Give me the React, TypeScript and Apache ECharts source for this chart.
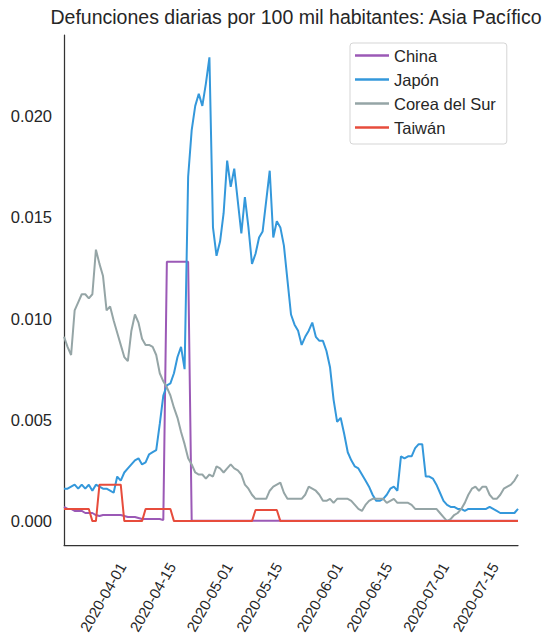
import React, { useEffect, useRef } from 'react';
import * as echarts from 'echarts';

const START_UTC = Date.UTC(2020, 2, 21);
const N_DAYS = 129;
function buildDates(): string[] {
  const out: string[] = [];
  for (let i = 0; i < N_DAYS; i++) {
    out.push(new Date(START_UTC + i * 86400000).toISOString().slice(0, 10));
  }
  return out;
}
const dates = buildDates();

const tickLabels = ['2020-04-01', '2020-04-15', '2020-05-01', '2020-05-15', '2020-06-01', '2020-06-15', '2020-07-01', '2020-07-15'];
const yTicks = [0, 0.005, 0.01, 0.015, 0.02];

const seriesNames = ['China', 'Japón', 'Corea del Sur', 'Taiwán'];
const seriesColors = ['#9b59b6', '#3498db', '#95a5a6', '#e74c3c'];

const china = [
  0.0007, 0.0006, 0.0006, 0.0005, 0.0005, 0.0005, 0.0004, 0.0004, 0.0004, 0.0003,
  0.00025, 0.0003, 0.0003, 0.0003, 0.0003, 0.0003, 0.0003, 0.00025, 0.0002, 0.0002,
  0.0002, 0.00015, 0.0001, 0.0001, 0.0001, 0.0001, 0.0001, 0.0001, 0.00005, 0.0128,
  0.0128, 0.0128, 0.0128, 0.0128, 0.0128, 0.0128, 0.00002, 0.00002, 0.00002, 0.00002,
  0.00002, 0.00002, 0.00002, 0.00002, 0.00002, 0.00002, 0.00002, 0.00002, 0.00002, 0.00002,
  0.00002, 0.00002, 0.00002, 0.00002, 0.00002, 0.00002, 0.00002, 0.00002, 0.00002, 0.00002,
  0.00002, 0.00002, 0.00002, 0.00002, 0.00002, 0.00002, 0.00002, 0.00002, 0.00002, 0.00002,
  0.00002, 0.00002, 0.00002, 0.00002, 0.00002, 0.00002, 0.00002, 0.00002, 0.00002, 0.00002,
  0.00002, 0.00002, 0.00002, 0.00002, 0.00002, 0.00002, 0.00002, 0.00002, 0.00002, 0.00002,
  0.00002, 0.00002, 0.00002, 0.00002, 0.00002, 0.00002, 0.00002, 0.00002, 0.00002, 0.00002,
  0.00002, 0.00002, 0.00002, 0.00002, 0.00002, 0.00002, 0.00002, 0.00002, 0.00002, 0.00002,
  0.00002, 0.00002, 0.00002, 0.00002, 0.00002, 0.00002, 0.00002, 0.00002, 0.00002, 0.00002,
  0.00002, 0.00002, 0.00002, 0.00002, 0.00002, 0.00002, 0.00002, 0.00002, 0.00002,
];

const japan = [
  0.0016, 0.0016, 0.0017, 0.0018, 0.0016, 0.0018, 0.0016, 0.0018, 0.0015, 0.0018,
  0.0017, 0.0016, 0.0016, 0.0015, 0.0014, 0.0022, 0.0020, 0.0024, 0.0026, 0.0028,
  0.0030, 0.0031, 0.0028, 0.0029, 0.0033, 0.0034, 0.0035, 0.0048, 0.0062, 0.0067,
  0.0068, 0.0073, 0.0081, 0.0086, 0.0075, 0.0170, 0.0193, 0.0205, 0.0211, 0.0205,
  0.0216, 0.0229, 0.0145, 0.0131, 0.0138, 0.0152, 0.0178, 0.0165, 0.0174, 0.0158,
  0.0142, 0.0160, 0.0145, 0.0127, 0.0132, 0.0140, 0.0143, 0.0158, 0.0173, 0.0140,
  0.0148, 0.0145, 0.0136, 0.0119, 0.0102, 0.0097, 0.0094, 0.0087, 0.0091, 0.0094,
  0.0098, 0.0091, 0.0089, 0.0089, 0.0084, 0.0076, 0.0060, 0.0049, 0.0051, 0.0043,
  0.0034, 0.0030, 0.0027, 0.0026, 0.0023, 0.0020, 0.0017, 0.0013, 0.0010, 0.0010,
  0.0011, 0.0013, 0.0016, 0.0017, 0.0015, 0.0032, 0.0031, 0.0032, 0.0032, 0.0036,
  0.0038, 0.0038, 0.0022, 0.0022, 0.0021, 0.0018, 0.0014, 0.0010, 0.0008, 0.0007,
  0.0007, 0.0006, 0.0006, 0.0005, 0.0006, 0.0006, 0.0006, 0.0006, 0.0006, 0.0006,
  0.0007, 0.0006, 0.0005, 0.0004, 0.0004, 0.0004, 0.0004, 0.0004, 0.0006,
];

const korea = [
  0.0091, 0.0086, 0.0082, 0.0104, 0.0108, 0.0112, 0.0112, 0.0110, 0.0112, 0.0134,
  0.0127, 0.0121, 0.0104, 0.0106, 0.0099, 0.0093, 0.0087, 0.0081, 0.0079, 0.0094,
  0.0102, 0.0098, 0.0090, 0.0087, 0.0087, 0.0086, 0.0082, 0.0073, 0.0069, 0.0066,
  0.0062, 0.0056, 0.0051, 0.0044, 0.0038, 0.0031, 0.0028, 0.0024, 0.0023, 0.0023,
  0.0021, 0.0023, 0.0022, 0.0027, 0.0026, 0.0024, 0.0026, 0.0028, 0.0026, 0.0025,
  0.0023, 0.0018, 0.0016, 0.0013, 0.0011, 0.0011, 0.0011, 0.0011, 0.0015, 0.0017,
  0.0018, 0.0019, 0.0014, 0.0011, 0.0011, 0.0011, 0.0011, 0.0011, 0.0013, 0.0017,
  0.0016, 0.0015, 0.0013, 0.0010, 0.0010, 0.0011, 0.0009, 0.0011, 0.0011, 0.0011,
  0.0011, 0.0010, 0.0008, 0.0006, 0.0005, 0.0008, 0.0010, 0.0011, 0.0011, 0.0011,
  0.0011, 0.0009, 0.0010, 0.0011, 0.0009, 0.0009, 0.0009, 0.0009, 0.0008, 0.0006,
  0.0006, 0.0006, 0.0006, 0.0006, 0.0006, 0.0006, 0.0004, 0.0002, 0.0000, 0.0001,
  0.0003, 0.0004, 0.0006, 0.0009, 0.0013, 0.0016, 0.0017, 0.0015, 0.0017, 0.0017,
  0.0013, 0.0011, 0.0011, 0.0013, 0.0016, 0.0017, 0.0018, 0.0020, 0.0023,
];

const taiwan = [
  0.0006, 0.0006, 0.0006, 0.0006, 0.0006, 0.0006, 0.0006, 0.0006, 0, 0,
  0.0018, 0.0018, 0.0018, 0.0018, 0.0018, 0.0018, 0.0018, 0, 0, 0,
  0, 0, 0, 0.0006, 0.0006, 0.0006, 0.0006, 0.0006, 0.0006, 0.0006,
  0.0006, 0, 0, 0, 0, 0, 0, 0, 0, 0,
  0, 0, 0, 0, 0, 0, 0, 0, 0, 0,
  0, 0, 0, 0, 0.00055, 0.00055, 0.00055, 0.00055, 0.00055, 0.00055,
  0.00055, 0, 0, 0, 0, 0, 0, 0, 0, 0,
  0, 0, 0, 0, 0, 0, 0, 0, 0, 0,
  0, 0, 0, 0, 0, 0, 0, 0, 0, 0,
  0, 0, 0, 0, 0, 0, 0, 0, 0, 0,
  0, 0, 0, 0, 0, 0, 0, 0, 0, 0,
  0, 0, 0, 0, 0, 0, 0, 0, 0, 0,
  0, 0, 0, 0, 0, 0, 0, 0, 0,
];

const seriesData = [china, japan, korea, taiwan];

const FONT = "'Liberation Sans', Arial, sans-serif";
const TEXT = '#262626';

export default function App() {
  const ref = useRef<HTMLDivElement>(null);
  useEffect(() => {
    if (!ref.current) return;
    const chart = echarts.init(ref.current, null, { renderer: 'svg' });
    chart.setOption({
      animation: false,
      backgroundColor: '#ffffff',
      textStyle: { fontFamily: FONT, color: TEXT },
      title: {
        text: 'Defunciones diarias por 100 mil habitantes: Asia Pacífico',
        left: 291,
        textAlign: 'center',
        top: 2,
        textStyle: { fontFamily: FONT, fontSize: 19.5, fontWeight: 'normal', color: TEXT },
      },
      legend: {
        orient: 'vertical',
        left: 350,
        top: 43,
        data: seriesNames,
        icon: 'rect',
        itemWidth: 34,
        itemHeight: 2.5,
        itemGap: 7,
        itemTextGap: 12,
        padding: [4, 11, 8, 5],
        borderColor: '#d5d5d5',
        borderWidth: 1,
        borderRadius: 3,
        backgroundColor: '#ffffff',
        textStyle: { fontFamily: FONT, fontSize: 16.5, color: TEXT },
      },
      grid: { left: 64, top: 35, right: 24, bottom: 94, containLabel: false, outerBoundsMode: 'none' },
      xAxis: {
        type: 'category',
        data: dates,
        boundaryGap: false,
        axisLine: { show: true, onZero: false, lineStyle: { color: '#333333', width: 1.25 } },
        axisTick: { show: false },
        splitLine: { show: false },
        axisLabel: {
          interval: (_i: number, v: string) => tickLabels.includes(v),
          rotate: 60,
          align: 'center',
          verticalAlign: 'middle',
          margin: 52,
          fontFamily: FONT,
          fontSize: 15,
          color: TEXT,
        },
      },
      yAxis: {
        type: 'value',
        min: -0.00118,
        max: 0.024,
        axisLine: { show: true, lineStyle: { color: '#333333', width: 1.25 } },
        axisTick: { show: false },
        splitLine: { show: false },
        axisLabel: {
          customValues: yTicks,
          formatter: (v: number) => v.toFixed(3),
          margin: 12,
          fontFamily: FONT,
          fontSize: 16.5,
          color: TEXT,
        },
      },
      series: seriesNames.map((name, k) => ({
        name,
        type: 'line',
        data: seriesData[k],
        showSymbol: false,
        symbol: 'none',
        color: seriesColors[k],
        lineStyle: { width: 2, color: seriesColors[k] },
        emphasis: { disabled: true },
      })),
    });
    return () => chart.dispose();
  }, []);
  return <div ref={ref} style={{ position: 'absolute', left: 0, top: 0, width: 542, height: 639 }} />;
}
